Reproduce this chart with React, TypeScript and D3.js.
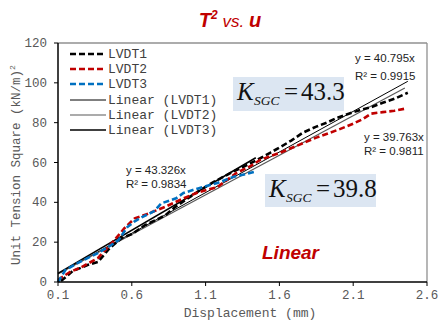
import React from "react";
import * as d3 from "d3";

const lvdt1X = [0.12, 0.2, 0.3, 0.37, 0.45, 0.53, 0.6, 0.69, 0.76, 0.83, 0.9, 1.0, 1.06, 1.15, 1.27, 1.36, 1.45, 1.54, 1.6, 1.68, 1.76, 1.85, 1.92, 1.99, 2.07, 2.15, 2.23, 2.3, 2.38, 2.47];
const lvdt1Y = [0.5, 5.5, 8.5, 10, 17, 22, 24, 28.6, 31, 33.7, 38, 43, 46, 50, 54.8, 58, 61.3, 65, 67.5, 71, 75, 78, 80, 82.4, 84.5, 86.4, 88, 90, 92, 95];
const lvdt2X = [0.1, 0.18, 0.26, 0.37, 0.47, 0.55, 0.62, 0.7, 0.825, 0.95, 1.05, 1.18, 1.31, 1.4, 1.47, 1.6, 1.69, 1.85, 2.0, 2.1, 2.17, 2.22, 2.3, 2.38, 2.45];
const lvdt2Y = [1, 5, 7.5, 12, 20, 27, 32, 34, 37.7, 42, 45, 47.7, 54.8, 58, 61.3, 64.8, 67.5, 72.5, 76.5, 79.5, 82, 84.5, 85.3, 86, 87];
const lvdt3X = [0.1, 0.15, 0.22, 0.3, 0.37, 0.44, 0.51, 0.57, 0.62, 0.67, 0.75, 0.8, 0.9, 0.95, 1.05, 1.18, 1.29, 1.36, 1.44];
const lvdt3Y = [0, 6, 9, 12, 14.5, 17.6, 21, 27.6, 30.5, 32.6, 35.5, 39.5, 42, 44.7, 47, 49.7, 52.8, 54, 55.5];
const slopes = [40.795, 39.763, 43.326];
const r2 = [0.9915, 0.9811, 0.9834];
const kValues = [43.3, 39.8];
const xTicks = [0.1, 0.6, 1.1, 1.6, 2.1, 2.6];
const yTicks = [0, 20, 40, 60, 80, 100, 120];
const seriesNames = ["LVDT1", "LVDT2", "LVDT3"];

const W = 441, H = 326;
const L = 58, R = 427, T = 43, B = 282;
const RED = "#c00000";
const BLUE = "#0070c0";
const MONO = "'Liberation Mono', 'Courier New', monospace";
const SANS = "'Liberation Sans', Arial, sans-serif";
const SERIF = "'Liberation Serif', 'Times New Roman', serif";

function KLabel({ x0, y0, value }: { x0: number; y0: number; value: number }) {
  return (
    <g fontFamily={SERIF} fill="#111">
      <text x={x0} y={y0} fontSize={25} fontStyle="italic">K</text>
      <text x={x0 + 17} y={y0 + 5} fontSize={13.5} fontStyle="italic">SGC</text>
      <text x={x0 + 47} y={y0} fontSize={25}>=</text>
      <text x={x0 + 64} y={y0} fontSize={25}>{value}</text>
    </g>
  );
}

export default function App() {
  const x = d3.scaleLinear().domain([0.1, 2.6]).range([L, R]);
  const y = d3.scaleLinear().domain([0, 120]).range([B, T]);
  const line = d3.line<[number, number]>().x(d => x(d[0])).y(d => y(d[1]));
  const data = [
    { xs: lvdt1X, ys: lvdt1Y, color: "#000" },
    { xs: lvdt2X, ys: lvdt2Y, color: RED },
    { xs: lvdt3X, ys: lvdt3Y, color: BLUE },
  ];
  const fitStyles = [
    { color: "#000", w: 1 },
    { color: "#595959", w: 1.2 },
    { color: "#000", w: 1.6 },
  ];
  const legendY = [54, 69, 84, 100, 115, 130];
  return (
    <svg width={W} height={H} style={{ position: "absolute", left: 0, top: 0, background: "#fff" }}>
      {/* title */}
      <text x={230} y={27} textAnchor="middle" fill={RED} fontFamily={SANS} fontSize={20} fontStyle="italic">
        <tspan fontWeight="bold">T</tspan>
        <tspan fontWeight="bold" fontSize={12} dy={-8}>2</tspan>
        <tspan dy={8} fontSize={17}> vs. </tspan>
        <tspan fontWeight="bold">u</tspan>
      </text>
      {/* frame */}
      <line x1={L} x2={R} y1={T} y2={T} stroke="#909090" strokeWidth={1.3} />
      <line x1={R} x2={R} y1={T} y2={B} stroke="#909090" strokeWidth={1.3} />
      {/* K boxes */}
      <rect x={233} y={77} width={111} height={34} fill="#dce6f2" />
      <rect x={265} y={174} width={111} height={33} fill="#dce6f2" />
      <KLabel x0={237} y0={100} value={kValues[0]} />
      <KLabel x0={269} y0={197} value={kValues[1]} />
      {/* fit lines */}
      {data.map((s, i) => {
        const x0 = s.xs[0], x1 = s.xs[s.xs.length - 1];
        return (
          <path key={"f" + i} d={line([[x0, slopes[i] * x0], [x1, slopes[i] * x1]]) || ""}
            stroke={fitStyles[i].color} strokeWidth={fitStyles[i].w} fill="none" />
        );
      })}
      {/* data */}
      {data.map((s, i) => (
        <path key={"d" + i} d={line(s.xs.map((v, j) => [v, s.ys[j]] as [number, number])) || ""}
          stroke={s.color} strokeWidth={2.6} strokeDasharray="6,3" fill="none" />
      ))}
      {/* axes */}
      <line x1={L} x2={L} y1={T} y2={B} stroke="#000" strokeWidth={1.5} />
      <line x1={L} x2={R} y1={B} y2={B} stroke="#000" strokeWidth={1.5} />
      {xTicks.map(t => (
        <g key={"xt" + t}>
          <line x1={x(t)} x2={x(t)} y1={B} y2={B + 4} stroke="#000" strokeWidth={1} />
          <text x={x(t)} y={299} textAnchor="middle" fontFamily={MONO} fontSize={12.5} fill="#595959">{t.toFixed(1)}</text>
        </g>
      ))}
      {yTicks.map(t => (
        <g key={"yt" + t}>
          <line x1={L - 4} x2={L} y1={y(t)} y2={y(t)} stroke="#000" strokeWidth={1} />
          <text x={47} y={y(t) + 4} textAnchor="end" fontFamily={MONO} fontSize={12.5} fill="#595959">{t}</text>
        </g>
      ))}
      <text x={250} y={317} textAnchor="middle" fontFamily={MONO} fontSize={13} fill="#595959">Displacement (mm)</text>
      <text transform="translate(20,165) rotate(-90)" textAnchor="middle" fontFamily={MONO} fontSize={12.5} fill="#595959">
        Unit Tension Square (kN/m)<tspan fontSize={8} dy={-5}>2</tspan>
      </text>
      {/* legend */}
      {data.map((s, i) => (
        <g key={"l" + i}>
          <line x1={70} x2={106} y1={legendY[i]} y2={legendY[i]} stroke={s.color} strokeWidth={2.6} strokeDasharray="6,3" />
          <text x={108} y={legendY[i] + 4} fontFamily={MONO} fontSize={13} fill="#404040">{seriesNames[i]}</text>
        </g>
      ))}
      {data.map((s, i) => (
        <g key={"lf" + i}>
          <line x1={70} x2={106} y1={legendY[i + 3]} y2={legendY[i + 3]} stroke={fitStyles[i].color} strokeWidth={fitStyles[i].w} />
          <text x={108} y={legendY[i + 3] + 4} fontFamily={MONO} fontSize={13} fill="#404040">Linear ({seriesNames[i]})</text>
        </g>
      ))}
      {/* trendline labels */}
      <text x={355} y={62} fontFamily={SANS} fontSize={11.5} fill="#222">y = {slopes[0]}x</text>
      <text x={355} y={80} fontFamily={SANS} fontSize={11.5} fill="#222">R² = {r2[0]}</text>
      <text x={364} y={141} fontFamily={SANS} fontSize={11.5} fill="#222">y = {slopes[1]}x</text>
      <text x={364} y={155} fontFamily={SANS} fontSize={11.5} fill="#222">R² = {r2[1]}</text>
      <text x={126} y={174} fontFamily={SANS} fontSize={11.5} fill="#222">y = {slopes[2]}x</text>
      <text x={126} y={188} fontFamily={SANS} fontSize={11.5} fill="#222">R² = {r2[2]}</text>
      <text x={262} y={259} fontFamily={SANS} fontSize={19} fontWeight="bold" fontStyle="italic" fill={RED}>Linear</text>
    </svg>
  );
}
